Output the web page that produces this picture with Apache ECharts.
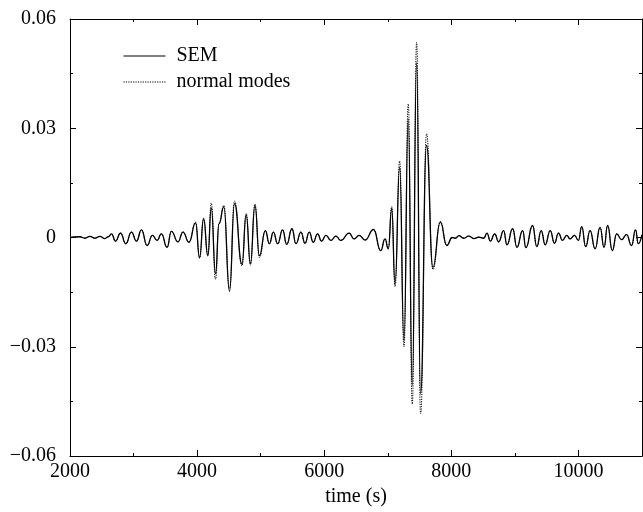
<!DOCTYPE html>
<html>
<head>
<meta charset="utf-8">
<script src="https://cdn.jsdelivr.net/npm/echarts@6/dist/echarts.min.js"></script>
<style>
html,body{margin:0;padding:0;background:#fff;}
#chart{width:643px;height:512px;}
</style>
</head>
<body>
<div id="chart"></div>
<script>
const times = [2000, 2157, 2235, 2314, 2392, 2471, 2549, 2601, 2654, 2716, 2795, 2878, 2967, 3046, 3124, 3213, 3297, 3370, 3438, 3527, 3595, 3700, 3778, 3872, 3976, 4039, 4102, 4169, 4223, 4290, 4345, 4420, 4510, 4588, 4706, 4772, 4839, 4910, 4980, 5074, 5137, 5200, 5267, 5346, 5409, 5493, 5555, 5634, 5697, 5765, 5827, 5895, 5958, 6027, 6105, 6183, 6262, 6392, 6470, 6549, 6643, 6776, 6889, 6957, 7008, 7062, 7114, 7187, 7255, 7322, 7385, 7454, 7516, 7610, 7710, 7827, 7929, 8012, 8066, 8118, 8196, 8274, 8353, 8431, 8510, 8561, 8614, 8682, 8745, 8823, 8875, 8965, 9032, 9122, 9173, 9278, 9345, 9414, 9477, 9556, 9623, 9686, 9749, 9816, 9869, 9937, 10000, 10052, 10114, 10183, 10262, 10340, 10403, 10459, 10533, 10601, 10679, 10757, 10836, 10899, 10941, 11000];

const semValues = [0, 0.0002, -0.0002, 0.0003, -0.0002, 0.0003, -0.0003, 0.0002, 0.0010, -0.0010, 0.0012, -0.0017, 0.0015, -0.0010, 0.0021, -0.0022, 0.0006, -0.0008, 0.0010, -0.0027, 0.0017, -0.0012, 0.0015, -0.0013,
  0.0040, -0.0055, 0.0051, -0.0049, 0.0081, -0.0099, 0.0038, 0.0084, -0.0148, 0.0093, -0.0073, 0.0062, -0.0072, 0.0088, -0.0050,
  0.0019, -0.0017, 0.0015, -0.0017, 0.0021, -0.0019, 0.0024, -0.0017, 0.0015, -0.0016, 0.0015, -0.0013, 0.0010, -0.0010, 0.0006, -0.0008, 0.0004, -0.0008, 0.0012, -0.0004, 0.0006, -0.0007,
  0.0022, -0.0036, -0.0004, -0.0031, 0.0079, -0.0127, 0.0193, -0.0283, 0.0326, -0.0406, 0.0481, -0.0429, 0.0253, -0.0082, 0.0042, -0.0022,
  0.0000, -0.0002, 0.0005, -0.0002, 0.0004, -0.0003, 0.0001, -0.0002, 0.0012, -0.0010, 0.0010, -0.0012, 0.0019, -0.0020, 0.0024, -0.0027, 0.0019, -0.0028, 0.0033, -0.0025, 0.0019, -0.0020, 0.0019, -0.0016, 0.0012, -0.0008, 0.0006, -0.0004, 0.0006, -0.0008,
  0.0030, -0.0025, 0.0019, -0.0031, 0.0028, -0.0027, 0.0033, -0.0036, 0.0010, -0.0006, 0.0008, -0.0022, 0.0021, -0.0017, 0.0008];

const nmValues = [0, 0.0002, -0.0002, 0.0003, -0.0002, 0.0003, -0.0003, 0.0002, 0.0010, -0.0010, 0.0012, -0.0017, 0.0015, -0.0010, 0.0021, -0.0022, 0.0006, -0.0008, 0.0010, -0.0027, 0.0017, -0.0012, 0.0015, -0.0013,
  0.0042, -0.0057, 0.0053, -0.0051, 0.0095, -0.0115, 0.0040, 0.0088, -0.0140, 0.0100, -0.0078, 0.0066, -0.0076, 0.0092, -0.0055,
  0.0019, -0.0017, 0.0015, -0.0017, 0.0021, -0.0019, 0.0024, -0.0017, 0.0015, -0.0016, 0.0015, -0.0013, 0.0010, -0.0010, 0.0006, -0.0008, 0.0004, -0.0008, 0.0012, -0.0004, 0.0006, -0.0007,
  0.0022, -0.0036, -0.0004, -0.0031, 0.0085, -0.0135, 0.0210, -0.0300, 0.0367, -0.0457, 0.0536, -0.0484, 0.0285, -0.0088, 0.0044, -0.0022,
  0.0000, -0.0002, 0.0005, -0.0002, 0.0004, -0.0003, 0.0001, -0.0002, 0.0012, -0.0010, 0.0010, -0.0012, 0.0019, -0.0020, 0.0024, -0.0027, 0.0019, -0.0028, 0.0033, -0.0025, 0.0019, -0.0020, 0.0019, -0.0016, 0.0012, -0.0008, 0.0006, -0.0004, 0.0006, -0.0008,
  0.0030, -0.0025, 0.0019, -0.0031, 0.0028, -0.0027, 0.0033, -0.0036, 0.0010, -0.0006, 0.0008, -0.0022, 0.0021, -0.0017, 0.0008];

const xMin = 2000, xMax = 11000, xMajor = 2000, xMinor = 1000;
const yMin = -0.06, yMax = 0.06, yMajor = 0.03, yMinor = 0.015;
const seriesNames = ['SEM', 'normal modes'];
const xName = 'time (s)';

const FONT = 'Liberation Serif';
const semData = times.map((t, i) => [t, semValues[i]]);
const nmData = times.map((t, i) => [t, nmValues[i]]);

function yLabel(v) {
  const k = Math.round(v / yMajor);
  if (Math.abs(v - k * yMajor) > 1e-9) return '';
  if (k === 0) return '0';
  return (v < 0 ? '\u2212' : '') + Math.abs(k * yMajor).toFixed(2);
}
function xLabel(v) {
  if (v % xMajor !== 0 || v >= xMax) return '';
  return String(v);
}

function xAxisDef(pos, interval, len, labels, line) {
  return {
    type: 'value', position: pos, min: xMin, max: xMax, interval: interval,
    axisLine: { show: line, onZero: false, lineStyle: { color: '#000', width: 1 } },
    axisTick: { show: true, inside: true, length: len, lineStyle: { color: '#000', width: 1 } },
    axisLabel: labels ? { show: true, formatter: xLabel, color: '#000', fontFamily: FONT, fontSize: 20, margin: 6, showMaxLabel: false } : { show: false },
    splitLine: { show: false },
    name: (labels ? xName : ''), nameLocation: 'middle', nameGap: 30,
    nameTextStyle: { color: '#000', fontFamily: FONT, fontSize: 20 }
  };
}
function yAxisDef(pos, interval, len, labels, line) {
  return {
    type: 'value', position: pos, min: yMin, max: yMax, interval: interval,
    axisLine: { show: line, onZero: false, lineStyle: { color: '#000', width: 1 } },
    axisTick: { show: true, inside: true, length: len, lineStyle: { color: '#000', width: 1 } },
    axisLabel: labels ? { show: true, formatter: yLabel, color: '#000', fontFamily: FONT, fontSize: 20, margin: 14 } : { show: false },
    splitLine: { show: false }
  };
}

const chart = echarts.init(document.getElementById('chart'), null, { renderer: 'canvas' });
chart.setOption({
  animation: false,
  backgroundColor: '#fff',
  grid: { left: 70, right: 1, top: 19, bottom: 56, containLabel: false },
  legend: {
    orient: 'vertical', left: 118, top: 41,
    itemWidth: 42, itemHeight: 20, itemGap: 6,
    data: seriesNames,
    itemStyle: { opacity: 0 },
    lineStyle: { width: 1 },
    textStyle: { color: '#000', fontFamily: FONT, fontSize: 20, padding: [0, 0, 0, 6] }
  },
  xAxis: [
    xAxisDef('bottom', xMinor, 3, true, true),
    xAxisDef('bottom', xMajor, 6, false, false),
    xAxisDef('top', xMinor, 3, false, true),
    xAxisDef('top', xMajor, 6, false, false)
  ],
  yAxis: [
    yAxisDef('left', yMinor, 3, true, true),
    yAxisDef('left', yMajor, 6, false, false),
    yAxisDef('right', yMinor, 3, false, true),
    yAxisDef('right', yMajor, 6, false, false)
  ],
  series: [
    {
      name: seriesNames[1], type: 'line', data: nmData, xAxisIndex: 0, yAxisIndex: 0,
      showSymbol: false, symbol: 'none', smooth: 0.5, smoothMonotone: 'x',
      lineStyle: { color: '#000', width: 1, type: [1.2, 1.2] }, itemStyle: { color: '#000' }, z: 2
    },
    {
      name: seriesNames[0], type: 'line', data: semData, xAxisIndex: 0, yAxisIndex: 0,
      showSymbol: false, symbol: 'none', smooth: 0.5, smoothMonotone: 'x',
      lineStyle: { color: '#000', width: 1.3, type: 'solid' }, itemStyle: { color: '#000' }, z: 3
    }
  ]
});
</script>
</body>
</html>
